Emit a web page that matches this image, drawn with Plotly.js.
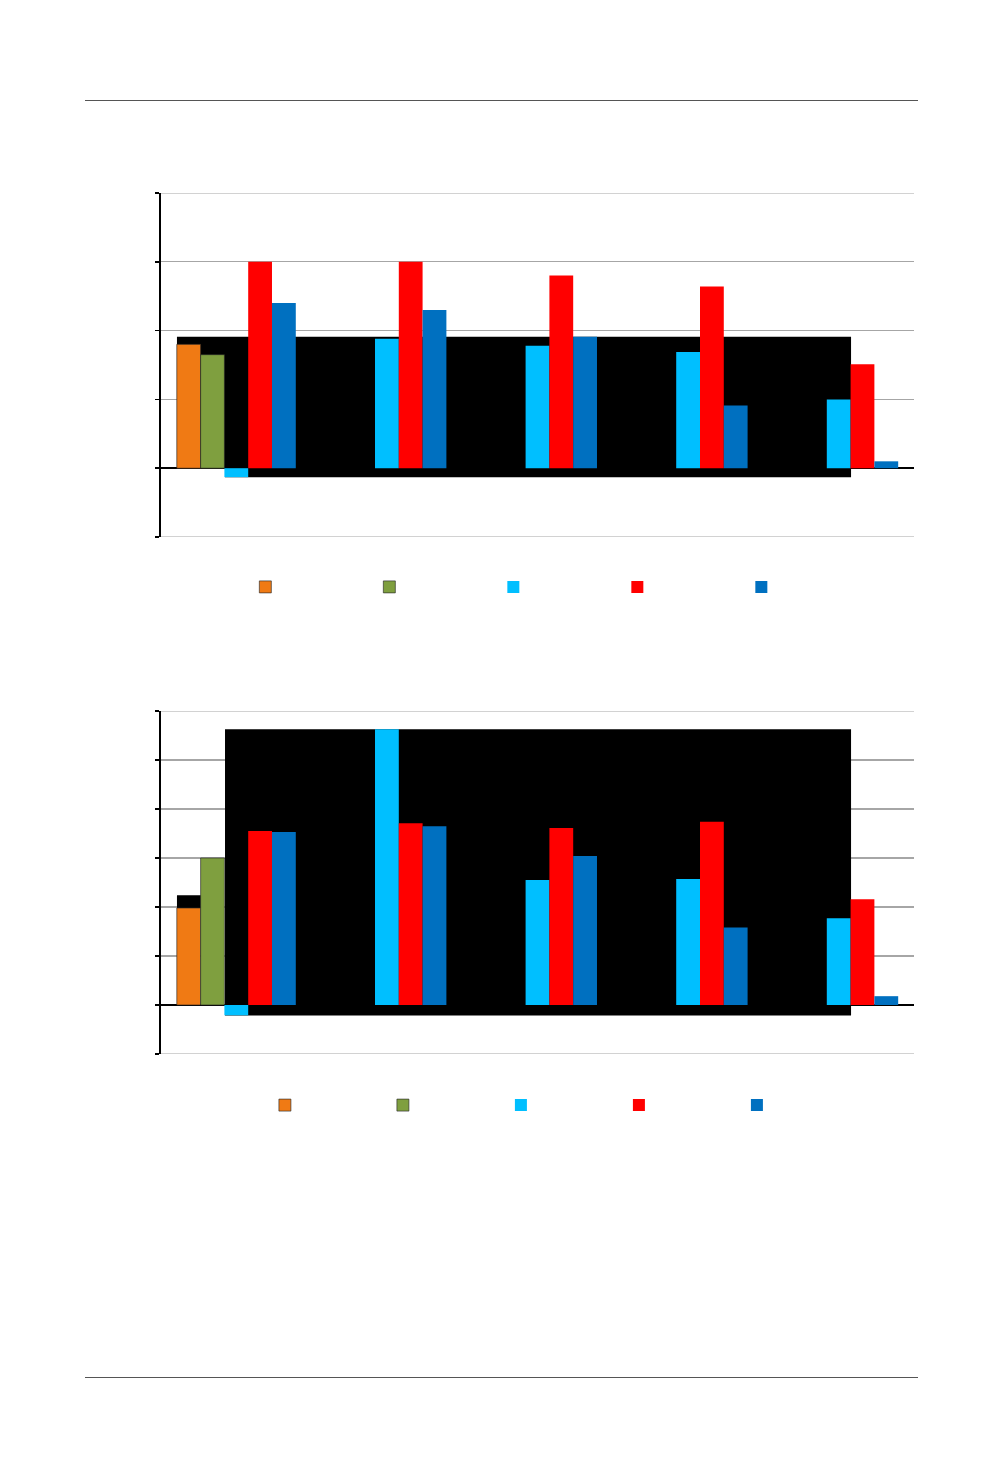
<!DOCTYPE html>
<html>
<head>
<meta charset="utf-8">
<script src="https://cdn.plot.ly/plotly-3.0.1.min.js"></script>
<style>
  body { margin: 0; background: #fff; width: 1002px; height: 1475px; position: relative; font-family: "Liberation Sans", Arial, sans-serif; }
  .rule { position: absolute; left: 85px; width: 833px; height: 1px; background: #555; }
  .chart { position: absolute; left: 100px; width: 860px; height: 480px; }
</style>
</head>
<body>
<div class="rule" style="top:100px"></div>
<div id="myPlot" class="chart" style="top:150px"></div>
<div id="myPlot2" class="chart" style="top:665px"></div>
<div class="rule" style="top:1377px"></div>

<script>
// five groups, five series per chart (labels were not legible)
var groups = ['g1', 'g2', 'g3', 'g4', 'g5']
var seriesColors = ['#F07A14', '#7F9F3F', '#00BFFF', '#FF0000', '#0070C0']

// chart 1 values
var orange1 = [1.80, null, null, null, null]
var green1 = [1.65, null, null, null, null]
var cyan1 = [-0.13, 1.88, 1.78, 1.69, 1.00]
var red1 = [3.00, 3.00, 2.80, 2.64, 1.51]
var blue1 = [2.40, 2.30, 1.91, 0.91, 0.10]

// chart 2 values
var orange2 = [1.98, null, null, null, null]
var green2 = [3.00, null, null, null, null]
var cyan2 = [-0.21, 5.63, 2.55, 2.57, 1.77]
var red2 = [3.55, 3.71, 3.61, 3.74, 2.16]
var blue2 = [3.53, 3.65, 3.04, 1.58, 0.18]

function makeTraces(seriesList) {
    return seriesList.map(function (vals, i) {
        var edge = (i < 3) ? 'rgba(40,40,40,0.8)' : seriesColors[i]
        return {
            x: groups,
            y: vals,
            type: 'bar',
            name: ' ',
            marker: { color: seriesColors[i], line: { color: edge, width: i < 2 ? 0.8 : 0 } },
            hoverinfo: 'y'
        }
    })
}

function blackBox(x0, x1, y0, y1) {
    return {
        type: 'rect', xref: 'x', yref: 'y', layer: 'between',
        x0: x0, x1: x1, y0: y0, y1: y1,
        fillcolor: '#000', line: { width: 0 }
    }
}

// plotly skips the gridlines sitting exactly on the range ends, so draw those two
function edgeGrid(yVal) {
    return {
        type: 'line', xref: 'paper', yref: 'y', layer: 'below',
        x0: 0, x1: 1, y0: yVal, y1: yVal,
        line: { color: '#A6A6A6', width: 1.2 }
    }
}

function baseLayout(yRange, legendX, legendY, entryW, t, b) {
    return {
        width: 860,
        height: 480,
        margin: { l: 61, r: 46, t: t, b: b },
        paper_bgcolor: '#fff',
        plot_bgcolor: '#fff',
        barmode: 'group',
        bargap: 0.21,
        bargroupgap: 0,
        showlegend: true,
        legend: {
            orientation: 'h', x: legendX, y: legendY, xanchor: 'left', yanchor: 'middle',
            entrywidthmode: 'pixels', entrywidth: entryW, font: { size: 10 }, itemwidth: 30
        },
        xaxis: {
            showticklabels: false, ticks: '', showgrid: false, showline: false,
            range: [-0.5, 4.5], fixedrange: true
        },
        yaxis: {
            range: yRange, dtick: 1, tick0: 0, showticklabels: false,
            ticks: 'outside', ticklen: 4, tickcolor: '#000', tickwidth: 1.5,
            showline: true, linecolor: '#000', linewidth: 2,
            gridcolor: '#A6A6A6', gridwidth: 1.2,
            zeroline: true, zerolinecolor: '#000', zerolinewidth: 1.5
        }
    }
}

function renderPlots(plot) {

    switch (plot) {

        case (1):
            var layout1 = baseLayout([-1, 4], 0.112, -0.145, 79, 43, 93)
            layout1.shapes = [
                edgeGrid(-1), edgeGrid(4),
                blackBox(-0.394, 4.082, 0, 1.91),
                blackBox(-0.075, 4.082, -0.13, 0)
            ]
            Plotly.newPlot('myPlot', makeTraces([orange1, green1, cyan1, red1, blue1]), layout1, { staticPlot: true });
            break;

        case (2):
            var layout2 = baseLayout([-1, 6], 0.138, -0.149, 73, 46, 91)
            layout2.shapes = [
                edgeGrid(-1), edgeGrid(6),
                blackBox(-0.075, 4.082, -0.215, 5.63),
                blackBox(-0.394, -0.235, 1.98, 2.24)
            ]
            Plotly.newPlot('myPlot2', makeTraces([orange2, green2, cyan2, red2, blue2]), layout2, { staticPlot: true });
            break;
    }
}

renderPlots(1)
renderPlots(2)
</script>
</body>
</html>
